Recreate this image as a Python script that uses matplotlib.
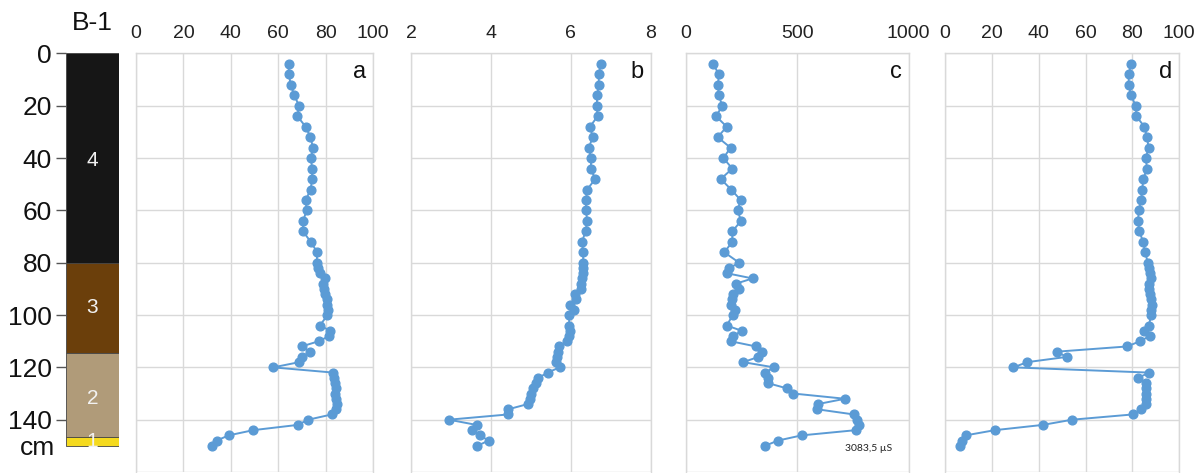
import numpy as np
import matplotlib
matplotlib.use("Agg")
import matplotlib.pyplot as plt

plt.rcParams['font.family'] = ['Liberation Sans', 'DejaVu Sans']

# sample depths (cm)
depth = list(range(4, 77, 4)) + list(range(80, 101, 2)) + list(range(104, 151, 2))

# panel a
val_a = [64.4, 64.5, 65.3, 66.8, 68.8, 68.1, 71.6, 73.6, 74.7, 73.8, 74.3, 74.3, 73.7, 71.6, 72.0, 70.5, 70.5, 73.7, 76.5,
         76.2, 76.9, 77.6, 79.9, 79.0, 79.3, 79.7, 80.4, 80.7, 81.1, 80.8,
         77.6, 81.9, 81.6, 77.1, 69.9, 73.4, 70.2, 68.9, 57.9, 83.3, 83.6, 84.0, 84.3, 83.8, 84.2, 84.6, 84.2, 82.6,
         72.7, 68.2, 49.5, 39.1, 34.0, 31.9]
# panel b
val_b = [6.75, 6.70, 6.70, 6.66, 6.65, 6.67, 6.48, 6.55, 6.45, 6.51, 6.50, 6.61, 6.41, 6.38, 6.38, 6.41, 6.37, 6.28, 6.31,
         6.31, 6.31, 6.30, 6.28, 6.26, 6.25, 6.10, 6.13, 5.98, 6.08, 5.96,
         5.96, 5.98, 5.96, 5.90, 5.71, 5.69, 5.66, 5.62, 5.72, 5.42, 5.19, 5.14, 5.05, 5.00, 4.97, 4.93, 4.44, 4.43,
         2.95, 3.64, 3.53, 3.73, 3.94, 3.66]
# panel c
val_c = [123, 147, 144, 147, 163, 135, 183, 142, 200, 168, 208, 156, 203, 245, 232, 247, 208, 208, 172,
         239, 195, 183, 299, 224, 239, 213, 205, 200, 220, 210,
         183, 250, 213, 200, 314, 340, 325, 257, 395, 355, 370, 367, 452, 482, 714, 594, 587, 754,
         770, 778, 763, 519, 412, 355]
# panel d
val_d = [79.4, 78.4, 78.4, 79.4, 81.4, 81.7, 85.1, 86.2, 86.9, 85.7, 86.2, 84.6, 84.2, 83.7, 82.7, 82.4, 82.9, 84.6, 85.4,
         86.6, 87.0, 87.5, 87.8, 87.2, 87.0, 87.5, 87.8, 88.2, 88.0, 88.0,
         87.0, 84.9, 87.5, 83.2, 77.8, 47.7, 51.9, 35.1, 29.2, 87.2, 82.4, 85.8, 86.0, 85.6, 85.8, 85.8, 83.8, 80.1,
         54.3, 41.7, 21.3, 8.8, 7.2, 6.3]

# stratigraphic column
layer_names = ['4', '3', '2', '1']
layer_top = [0, 80, 114.5, 146.5]
layer_bot = [80, 114.5, 146.5, 150]
layer_colors = ['#161616', '#6b3f0b', '#b09b79', '#f5da1e']
layer_label_depth = [41, 97, 132, 148.5]

panels = [
    ('a', val_a, (0, 100), [0, 20, 40, 60, 80, 100]),
    ('b', val_b, (2, 8), [2, 4, 6, 8]),
    ('c', val_c, (0, 1000), [0, 500, 1000]),
    ('d', val_d, (0, 100), [0, 20, 40, 60, 80, 100]),
]
panel_px = [(136, 373), (411, 650.7), (686, 908.7), (945, 1179.3)]

W, H = 1203, 473
fig = plt.figure(figsize=(W / 100, H / 100), dpi=100)

y_top = 53.5
y_bot = 472.0
ax_b = 1 - y_bot / H
ax_h = (y_bot - y_top) / H
blue = '#5b9bd5'
grid_c = '#d9d9d9'

for (letter, vals, xlim, xt), (x0, x1) in zip(panels, panel_px):
    ax = fig.add_axes([x0 / W, ax_b, (x1 - x0) / W, ax_h])
    ax.plot(vals, depth, '-o', color=blue, lw=1.4, ms=6.3, zorder=3)
    ax.set_xlim(*xlim)
    ax.set_ylim(160, 0)
    ax.set_xticks(xt)
    ax.set_yticks(range(0, 161, 20))
    ax.set_yticklabels([])
    ax.xaxis.tick_top()
    ax.tick_params(axis='x', length=0, pad=8, labelsize=14, labelcolor='#222222')
    ax.tick_params(axis='y', length=0)
    ax.grid(True, color=grid_c, lw=1)
    ax.set_axisbelow(True)
    for s in ax.spines.values():
        s.set_color(grid_c)
        s.set_linewidth(1)
    ax.spines['bottom'].set_visible(False)
    ax.text(0.97, 0.983, letter, transform=ax.transAxes, ha='right', va='top', fontsize=17, color='#111111')
    if letter == 'c':
        ax.text(822, 151, '3083,5 µS', ha='center', va='center', fontsize=7.5,
                family=['Lato', 'DejaVu Sans'], color='#222222')

# column
axs = fig.add_axes([65.7 / W, ax_b, 53.3 / W, ax_h])
for name, t, b, c, ld in zip(layer_names, layer_top, layer_bot, layer_colors, layer_label_depth):
    axs.bar(0.5, b - t, bottom=t, width=1, color=c, edgecolor='#444444', lw=0.6)
    axs.text(0.5, ld, name, ha='center', va='center', color='#f2f2f2', fontsize=15)
axs.set_xlim(0, 1)
axs.set_ylim(160, 0)
axs.set_yticks(range(0, 141, 20))
axs.tick_params(axis='y', length=7, width=1, color='#555555', pad=3, labelsize=19, labelcolor='#111111')
axs.set_xticks([])
for s in axs.spines.values():
    s.set_visible(False)
axs.text(-0.2, 151, 'cm', ha='right', va='center', fontsize=19, color='#111111')
fig.text(92 / W, 1 - 23 / H, 'B-1', ha='center', va='center', fontsize=19, color='#111111')

fig.savefig('out.png', dpi=100)
